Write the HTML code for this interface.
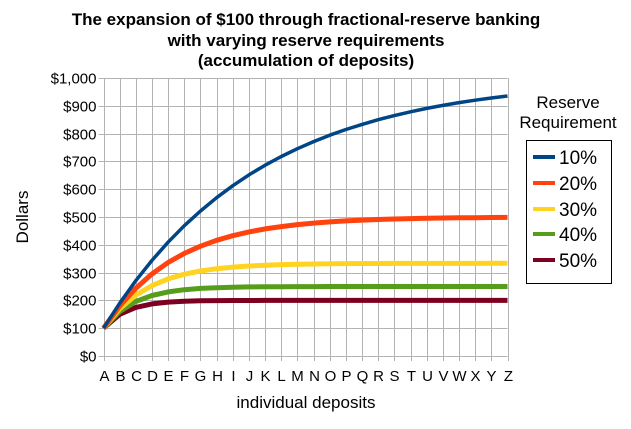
<!DOCTYPE html>
<html><head><style>body{margin:0;background:#fff}svg{display:block;font-family:"Liberation Sans",sans-serif}</style></head>
<body>
<svg id="s" width="631" height="429" xmlns="http://www.w3.org/2000/svg">
<rect width="631" height="429" fill="#fff"/>
<g font-weight="bold" font-size="17" text-anchor="middle" fill="#000">
<text x="306" y="25">The expansion of $100 through fractional-reserve banking</text>
<text x="306" y="46">with varying reserve requirements</text>
<text x="306" y="66">(accumulation of deposits)</text>
</g>
<g id="grid" stroke="#b3b3b3" stroke-width="1"></g>
<g id="lbl" font-size="15" fill="#000"></g>
<g id="series" fill="none" stroke-linejoin="round"></g>
<text x="0" y="0" font-size="17" text-anchor="middle" transform="translate(28,217) rotate(-90)">Dollars</text>
<text x="306" y="408" font-size="17" text-anchor="middle">individual deposits</text>
<g font-size="17" text-anchor="middle"><text x="568" y="108">Reserve</text><text x="568" y="128">Requirement</text></g>
<rect x="526.5" y="140.5" width="85" height="143" fill="#fff" stroke="#000"/>
<g stroke-width="4">
<line x1="533" x2="555" y1="157" y2="157" stroke="#004586"/>
<line x1="533" x2="555" y1="183" y2="183" stroke="#ff420e"/>
<line x1="533" x2="555" y1="209" y2="209" stroke="#ffd320"/>
<line x1="533" x2="555" y1="234" y2="234" stroke="#579d1c"/>
<line x1="533" x2="555" y1="260" y2="260" stroke="#7e0021"/>
</g>
<g font-size="19"><text x="559" y="164">10%</text><text x="559" y="190">20%</text><text x="559" y="216">30%</text><text x="559" y="241">40%</text><text x="559" y="267">50%</text></g>
</svg>
<script>
var NS="http://www.w3.org/2000/svg";
function el(t,a,p){var e=document.createElementNS(NS,t);for(var k in a)e.setAttribute(k,a[k]);document.getElementById(p).appendChild(e);return e;}
var L=103.5,R=507.5,T=78,B=356,dx=(R-L)/25;
function Y(v){return B-(B-T)*v/1000;}
for(var i=0;i<=10;i++){var y=Math.round(Y(i*100))+0.5;el("line",{x1:L-5,x2:R,y1:y,y2:y},"grid");
var t=el("text",{x:L-7,y:y+5,"text-anchor":"end"},"lbl");t.textContent="$"+(i==10?"1,000":i*100);}
var letters="ABCDEFGHIJKLMNOPQRSTUVWXYZ";
for(var i=0;i<26;i++){var x=Math.round(L+i*dx)+0.5;el("line",{x1:x,x2:x,y1:T,y2:B+5},"grid");
var t=el("text",{x:x,y:381,"text-anchor":"middle"},"lbl");t.textContent=letters[i];}
var S=[[0.5,"#7e0021",5],[0.4,"#579d1c",5],[0.3,"#ffd320",5],[0.2,"#ff420e",5],[0.1,"#004586",3.5]];
S.forEach(function(s){var r=s[0],p="";for(var n=0;n<26;n++){var v=100*(1-Math.pow(1-r,n+1))/r;p+=(n?"L":"M")+(L+n*dx).toFixed(1)+","+Y(v).toFixed(1);}
el("path",{d:p,stroke:s[1],"stroke-width":s[2]},"series");});
</script>
</body></html>
